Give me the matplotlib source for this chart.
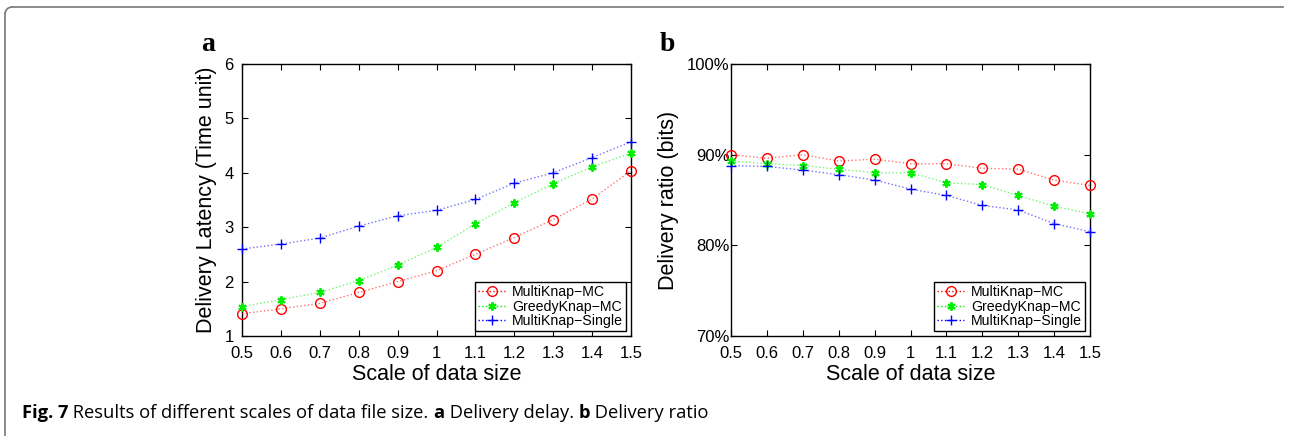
import matplotlib
matplotlib.use("Agg")
import matplotlib.pyplot as plt
from matplotlib.lines import Line2D
from matplotlib.patches import Arc

x = [0.5, 0.6, 0.7, 0.8, 0.9, 1.0, 1.1, 1.2, 1.3, 1.4, 1.5]
xtick_labels = ["0.5", "0.6", "0.7", "0.8", "0.9", "1", "1.1", "1.2", "1.3", "1.4", "1.5"]
series_names = ["MultiKnap\u2212MC", "GreedyKnap\u2212MC", "MultiKnap\u2212Single"]

latency_multi_mc = [1.41, 1.50, 1.60, 1.80, 2.00, 2.20, 2.50, 2.81, 3.14, 3.52, 4.04]
latency_greedy_mc = [1.54, 1.67, 1.80, 2.02, 2.30, 2.63, 3.06, 3.45, 3.80, 4.11, 4.36]
latency_multi_single = [2.60, 2.69, 2.80, 3.02, 3.21, 3.31, 3.51, 3.81, 4.00, 4.28, 4.57]

ratio_multi_mc = [90.0, 89.6, 90.0, 89.3, 89.5, 89.0, 89.0, 88.5, 88.4, 87.2, 86.6]
ratio_greedy_mc = [89.3, 89.0, 88.8, 88.4, 88.0, 88.0, 86.9, 86.7, 85.5, 84.3, 83.5]
ratio_multi_single = [88.8, 88.7, 88.3, 87.8, 87.2, 86.2, 85.5, 84.4, 83.9, 82.4, 81.5]

lat_yticks = [1, 2, 3, 4, 5, 6]
ratio_yticks = [70, 80, 90, 100]
ratio_ytick_labels = ["70%", "80%", "90%", "100%"]

W, H = 1289, 436
fig = plt.figure(figsize=(W / 100, H / 100), dpi=100)
plt.rcParams['font.family'] = ['Liberation Sans', 'DejaVu Sans']

styles = [
    dict(marker='o', markerfacecolor='none', markeredgecolor='red', markersize=7, markeredgewidth=1.0),
    dict(marker=(6, 2, 0), markeredgecolor='#00ee00', markersize=6, markeredgewidth=1.4),
    dict(marker='+', markeredgecolor='blue', markersize=7, markeredgewidth=1.0),
]
line_colors = ['red', '#00ee00', 'blue']

def style_axes(ax):
    ax.tick_params(direction='in', top=True, right=True, length=4, width=0.8, labelsize=12)
    ax.tick_params(axis='x', pad=7)
    ax.tick_params(axis='y', pad=6)
    for s in ax.spines.values():
        s.set_linewidth(1.0)
        s.set_zorder(1)
    ax.set_xlim(0.5, 1.5)
    ax.set_xticks(x)
    ax.set_xticklabels(xtick_labels)
    ax.set_xlabel("Scale of data size", fontsize=15.5, labelpad=2)

def draw(ax, data):
    handles = []
    for vals, name, st, lc in zip(data, series_names, styles, line_colors):
        ax.plot(x, vals, linestyle=':', linewidth=1.0, color=lc, alpha=0.55, clip_on=False)
        ax.plot(x, vals, linestyle='none', clip_on=False, zorder=3, **st)
        handles.append(Line2D([], [], linestyle=':', linewidth=1.0, color=lc, **st))
    leg = ax.legend(handles, series_names, loc='lower right', fontsize=10.2, frameon=True, fancybox=False,
                    edgecolor='black', framealpha=1, borderpad=0.2, labelspacing=0.05,
                    handlelength=1.9, handletextpad=0.5, borderaxespad=0.35)
    leg.get_frame().set_linewidth(1.0)
    leg.set_zorder(5)

ax1 = fig.add_axes([242 / W, 1 - 336 / H, 389 / W, 272 / H])
draw(ax1, [latency_multi_mc, latency_greedy_mc, latency_multi_single])
style_axes(ax1)
ax1.set_ylim(1, 6)
ax1.set_yticks(lat_yticks)
ax1.set_ylabel("Delivery Latency (Time unit)", fontsize=15.5, labelpad=5)

ax2 = fig.add_axes([731 / W, 1 - 336 / H, 359 / W, 272 / H])
draw(ax2, [ratio_multi_mc, ratio_greedy_mc, ratio_multi_single])
style_axes(ax2)
ax2.set_ylim(70, 100)
ax2.set_yticks(ratio_yticks)
ax2.set_yticklabels(ratio_ytick_labels)
ax2.tick_params(axis='y', pad=1)
ax2.set_ylabel("Delivery ratio (bits)", fontsize=15.5, labelpad=6)

fig.text(208 / W, 1 - 44 / H, "a", fontsize=20, fontweight='bold', family='Liberation Serif', ha='center', va='center')
fig.text(667 / W, 1 - 44 / H, "b", fontsize=20, fontweight='bold', family='Liberation Serif', ha='center', va='center')

# caption
cap_fs = 13.2
t1 = fig.text(22 / W, 1 - 413 / H, "Fig. 7", fontsize=cap_fs, fontweight='bold', family='Open Sans', va='center', ha='left')
fig.canvas.draw()
r = fig.canvas.get_renderer()
bb = t1.get_window_extent(r)
parts = [(" Results of different scales of data file size. ", 'normal'), ("a", 'bold'),
         (" Delivery delay. ", 'normal'), ("b", 'bold'), (" Delivery ratio", 'normal')]
xpos = bb.x1
for txt, wt in parts:
    t = fig.text(xpos / W, 1 - 413 / H, txt, fontsize=cap_fs, fontweight=wt, family='Open Sans', va='center', ha='left')
    xpos = t.get_window_extent(r).x1

# frame
frame_color = '#777777'
fig.add_artist(Line2D([5 / W, 5 / W], [0, 1 - 14 / H], color=frame_color, linewidth=1.2))
fig.add_artist(Line2D([12 / W, 1283 / W], [1 - 7 / H, 1 - 7 / H], color=frame_color, linewidth=1.2))
fig.add_artist(Arc((12 / W, 1 - 14 / H), 14 / W, 14 / H, theta1=90, theta2=180, color=frame_color, linewidth=1.2, transform=fig.transFigure))

fig.savefig("out.png", dpi=100)
